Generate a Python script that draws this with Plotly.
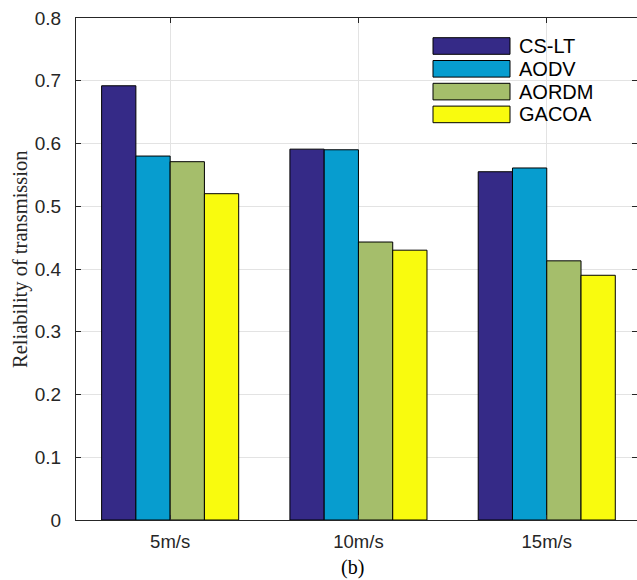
import plotly.graph_objects as go

categories = ["5m/s", "10m/s", "15m/s"]
series_names = ["CS-LT", "AODV", "AORDM", "GACOA"]
cs_lt = [0.692, 0.591, 0.555]
aodv = [0.580, 0.590, 0.561]
aordm = [0.571, 0.443, 0.413]
gacoa = [0.520, 0.430, 0.390]
y_ticks = [0, 0.1, 0.2, 0.3, 0.4, 0.5, 0.6, 0.7, 0.8]
y_title = "Reliability of transmission"
caption = "(b)"

colors = ["#352A87", "#079DCF", "#A5BE6B", "#F9FB0E"]
values = [cs_lt, aodv, aordm, gacoa]

W, H = 637, 580
L, R, T, B = 76, 0, 18, 60
pw, ph = W - L - R, H - T - B

def px(x):
    return (x - L) / pw

def py(y):
    return (H - B - y) / ph

xpos = list(range(1, len(categories) + 1))

fig = go.Figure()
for name, vals, col in zip(series_names, values, colors):
    fig.add_trace(go.Bar(
        x=xpos, y=vals, name=name,
        marker=dict(color=col, line=dict(color="#000000", width=1)),
        showlegend=False,
    ))

# invisible helper trace so that the right-hand (mirrored) y ticks are drawn without a line
fig.add_trace(go.Scatter(
    x=xpos, y=cs_lt, yaxis="y2", mode="markers",
    marker=dict(opacity=0), showlegend=False, hoverinfo="skip",
))

ytext = ["0" if v == 0 else f"{v:.1f}" for v in y_ticks]

fig.update_layout(
    width=W, height=H,
    margin=dict(l=L, r=R, t=T, b=B, pad=0),
    paper_bgcolor="white", plot_bgcolor="white",
    barmode="group", bargap=0.272, bargroupgap=0,
    font=dict(family="Liberation Sans, Arial, sans-serif", color="#262626"),
    xaxis=dict(
        range=[0.5, 0.5 + pw / 188.3],
        tickvals=xpos, ticktext=categories,
        tickfont=dict(size=18.5, color="#262626"),
        ticks="inside", ticklen=5, tickcolor="#262626",
        showline=True, linecolor="#262626", linewidth=1, mirror="ticks",
        showgrid=True, gridcolor="#e3e3e3", gridwidth=1,
        zeroline=False, ticklabelstandoff=5,
    ),
    yaxis=dict(
        range=[0, 0.8],
        tickvals=y_ticks, ticktext=ytext,
        tickfont=dict(size=19, color="#262626"),
        ticks="inside", ticklen=5, tickcolor="#262626",
        showline=True, linecolor="#262626", linewidth=1, mirror=False,
        showgrid=True, gridcolor="#e3e3e3", gridwidth=1,
        zeroline=False, ticklabelstandoff=10,
    ),
    yaxis2=dict(
        overlaying="y", side="right", range=[0, 0.8], tickvals=y_ticks,
        showticklabels=False, ticks="inside", ticklen=5, tickcolor="#262626",
        showline=False, showgrid=False, zeroline=False,
    ),
)

# y-axis title (serif, rotated)
fig.add_annotation(
    text=y_title, textangle=-90, showarrow=False,
    xref="paper", yref="paper", x=px(20), y=py(259),
    xanchor="center", yanchor="middle",
    font=dict(family="Liberation Serif, Times New Roman, serif", size=20.5, color="#262626"),
)
# caption
fig.add_annotation(
    text=caption, showarrow=False,
    xref="paper", yref="paper", x=px(352), y=py(567),
    xanchor="center", yanchor="middle",
    font=dict(family="Liberation Serif, Times New Roman, serif", size=20, color="#000000"),
)

# legend (drawn manually for large swatches)
row_y = [46, 68.8, 91.6, 114.4]
for name, col, yc in zip(series_names, colors, row_y):
    fig.add_shape(
        type="rect", xref="paper", yref="paper",
        x0=px(433), x1=px(510), y0=py(yc + 8.3), y1=py(yc - 8.3),
        fillcolor=col, line=dict(color="#000000", width=1), layer="above",
    )
    fig.add_annotation(
        text=name, showarrow=False, xref="paper", yref="paper",
        x=px(517), y=py(yc), xanchor="left", yanchor="middle",
        font=dict(family="Liberation Sans, Arial, sans-serif", size=20, color="#000000"),
    )

fig.write_html("out.html")
